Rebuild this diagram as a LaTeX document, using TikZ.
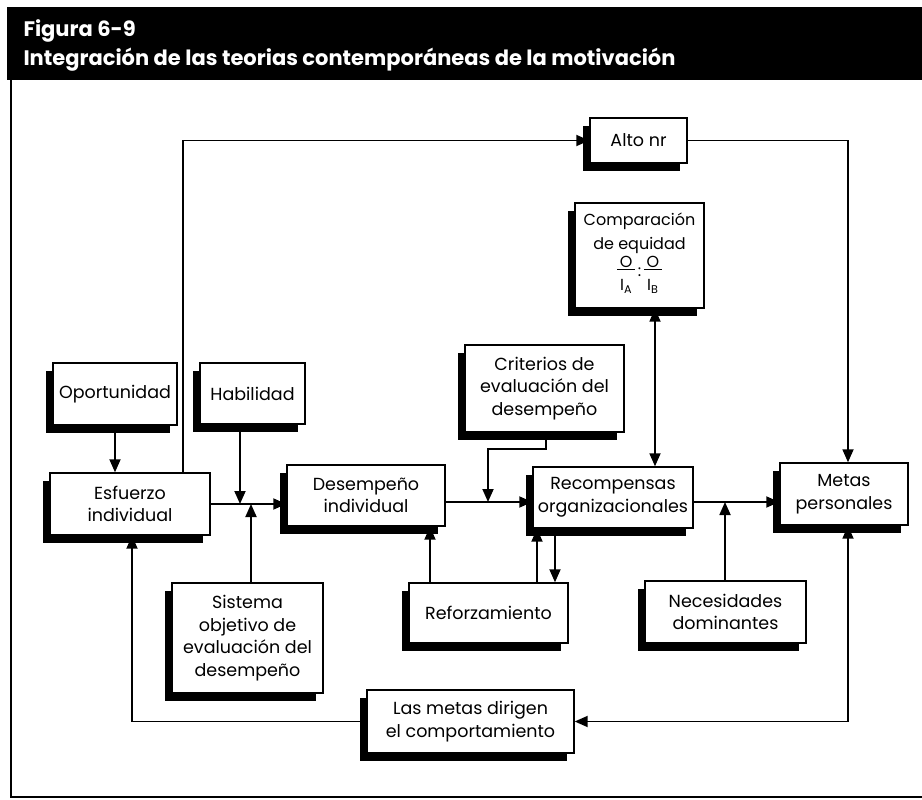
\documentclass[tikz,border=0pt]{standalone}
\usepackage{fontspec}
\setmainfont{Poppins}
\usetikzlibrary{arrows.meta,shadows,calc}
\newcommand{\eqfrac}[1]{\begin{tabular}[c]{@{}c@{}}\underline{\,O\,}\\[-1pt]I\textsubscript{#1}\end{tabular}}
\begin{document}
\begin{tikzpicture}[x=1pt,y=-1pt,
  box/.style={draw=black, line width=1.4pt, fill=white, align=center, inner sep=1pt,
    font=\fontsize{17.5}{22.5}\selectfont,
    drop shadow={shadow xshift=-7pt, shadow yshift=-8pt, fill=black, opacity=1}},
  arr/.style={line width=1.8pt, -{Triangle[length=13pt,width=11pt]}},
  arrboth/.style={line width=1.8pt, {Triangle[length=13pt,width=11pt]}-{Triangle[length=13pt,width=11pt]}},
  titletext/.style={anchor=base west, text=white, font=\bfseries\fontsize{21}{24}\selectfont}]
\useasboundingbox (0,0) rectangle (922,800);
% title bar and frame
\fill[black] (7,7) rectangle (922,80);
\node[titletext] (t1) at (20,37) {Figura 6-9};
\node[titletext] (t2) at (20,66) {Integración de las teorias contemporáneas de la motivación};
\draw[line width=1.6pt] (11,80) -- (11,797) -- (922,797);

% boxes
\node[box, minimum width=97pt, minimum height=45pt] (alto) at (638.5,140.5) {Alto nr};
\node[box, minimum width=129pt, minimum height=105pt, font=\fontsize{16}{24}\selectfont] (comp) at (639.5,255.5)
  {Comparación\\de equidad\\[-4pt]
   \eqfrac{A}\,\raisebox{2pt}{:}\,\eqfrac{B}};
\node[box, minimum width=124pt, minimum height=62pt] (oport) at (115,394) {Oportunidad};
\node[box, minimum width=105pt, minimum height=61pt] (habil) at (252.5,393.5) {Habilidad};
\node[box, minimum width=160pt, minimum height=62pt] (esf) at (130,504) {Esfuerzo\\individual};
\node[box, minimum width=158pt, minimum height=61pt] (desemp) at (366,495.5) {Desempeño\\individual};
\node[box, minimum width=159pt, minimum height=87pt] (crit) at (544.5,388.5) {Criterios de\\evaluación del\\desempeño};
\node[box, minimum width=160pt, minimum height=61pt] (recomp) at (613,497.5) {Recompensas\\organizacionales};
\node[box, minimum width=128pt, minimum height=62pt] (metas) at (844,494) {Metas\\personales};
\node[box, minimum width=151pt, minimum height=110pt] (sist) at (247.5,638) {Sistema\\objetivo de\\evaluación del\\desempeño};
\node[box, minimum width=159pt, minimum height=60pt] (refor) at (488.5,613) {Reforzamiento};
\node[box, minimum width=161pt, minimum height=62pt] (neces) at (725.5,612) {Necesidades\\dominantes};
\node[box, minimum width=207pt, minimum height=63pt] (lasmetas) at (470.5,721.5) {Las metas dirigen\\el comportamiento};

% junction coordinates
\coordinate (yA) at (0,504);
\coordinate (yB) at (0,502);
\coordinate (xEsfUp) at (183,0);
\coordinate (jHab) at (240,504);
\coordinate (jSist) at (251,504);
\coordinate (cBend) at (546,449);
\coordinate (jCrit) at (488,502);
\coordinate (jNec) at (725,502);
\coordinate (xComp) at (655,0);
\coordinate (xR1) at (430,0);
\coordinate (xR2) at (537,0);
\coordinate (xR3) at (555,0);
\coordinate (xMet) at (848,0);
\coordinate (xEsfDn) at (132,0);

% connectors
\draw[arr] (esf.north -| xEsfUp) |- (alto.west);
\draw[arr] (alto.east) -| (metas.north -| xMet);
\draw[arr] (oport.south) -- (oport.south |- esf.north);
\draw[arr] (esf.east |- yA) -- (desemp.west |- yA);
\draw[arr] (habil.south -| jHab) -- (jHab);
\draw[arr] (sist.north -| jSist) -- (jSist);
\draw[arr] (desemp.east |- yB) -- (recomp.west |- yB);
\draw[arr] (crit.south -| cBend) -- (cBend) -| (jCrit);
\draw[arrboth] (comp.south -| xComp) -- (recomp.north -| xComp);
\draw[arr] (recomp.east |- yB) -- (metas.west |- yB);
\draw[arr] (neces.north -| jNec) -- (jNec);
\draw[arr] (refor.north -| xR1) -- (desemp.south -| xR1);
\draw[arr] (refor.north -| xR2) -- (recomp.south -| xR2);
\draw[arr] (recomp.south -| xR3) -- (refor.north -| xR3);
\draw[arrboth] (lasmetas.east) -| (metas.south -| xMet);
\draw[arr] (lasmetas.west) -| (esf.south -| xEsfDn);
\end{tikzpicture}
\end{document}
